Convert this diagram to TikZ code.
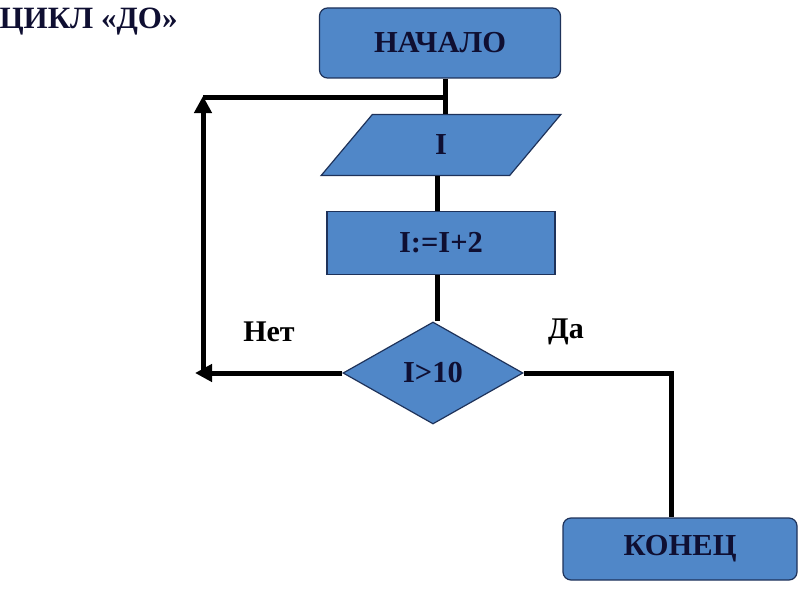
\documentclass[tikz,border=0pt]{standalone}
\usepackage{fontspec}
\setmainfont{Liberation Serif}
\usetikzlibrary{shapes.geometric,arrows.meta,positioning}
\definecolor{boxblue}{RGB}{80,135,200}
\definecolor{boxline}{RGB}{30,50,90}
\definecolor{inkblue}{RGB}{15,15,50}

\tikzset{
  blk/.style={fill=boxblue,draw=boxline,line width=1.2pt,text=inkblue,
    font=\fontsize{30.5}{34}\selectfont\bfseries},
  term/.style={blk,rectangle,rounded corners=8pt,minimum width=241pt,minimum height=70pt},
  proc/.style={blk,rectangle,minimum width=228pt,minimum height=63pt},
  io/.style={blk,trapezium,trapezium left angle=50,trapezium right angle=130,
    minimum height=55pt,text width=60pt,align=center,inner xsep=0pt},
  cond/.style={blk,diamond,aspect=1.78,minimum width=180pt,minimum height=102pt,inner sep=0pt},
  lbl/.style={text=black,font=\fontsize{30}{34}\selectfont\bfseries},
  wire/.style={line width=5pt,black},
  arr/.style={wire,-{Triangle[length=17pt,width=17pt]}}
}

\begin{document}
\begin{tikzpicture}[x=1pt,y=-1pt]
\useasboundingbox (0,0) rectangle (801,594);

\node[lbl,anchor=west,text=inkblue,font=\fontsize{31}{34}\selectfont\bfseries] (title) at (-4,22) {ЦИКЛ «ДО»};

\node[term] (start) at (440,43) {НАЧАЛО};
\node[io,minimum width=240pt] (input) at (441,145) {I};
\node[proc] (step2) at (441,243) {I:=I+2};
\node[cond] (check) at (433,373) {I>10};
\node[term,minimum width=234pt,minimum height=62pt] (stop) at (680,549) {КОНЕЦ};

\node[lbl] (no) at (269,332) {Нет};
\node[lbl] (yes) at (566,332) {Да};

\coordinate (merge) at (445,98);
\coordinate (axis) at (437,98);
\coordinate (loopTop) at (203,98);
\coordinate (loopBot) at (203,373);
\coordinate (loopTip) at (195,373);
\coordinate (bend) at (671,373);

% main line
\draw[wire] (start.south -| merge) -- (input.north -| merge);
\draw[wire] (input.south -| axis) -- (step2.north -| axis);
\draw[wire] (step2.south -| axis) -- (check.north -| axis);

% loop back
\draw[arr] (check.west) -- (loopTip);
\draw[arr] (loopBot) -- ([yshift=2pt]loopTop);
\draw[wire] (loopTop) -- (merge);

% exit
\draw[wire] (check.east) -- (bend) -- (bend |- stop.north);
\end{tikzpicture}
\end{document}
